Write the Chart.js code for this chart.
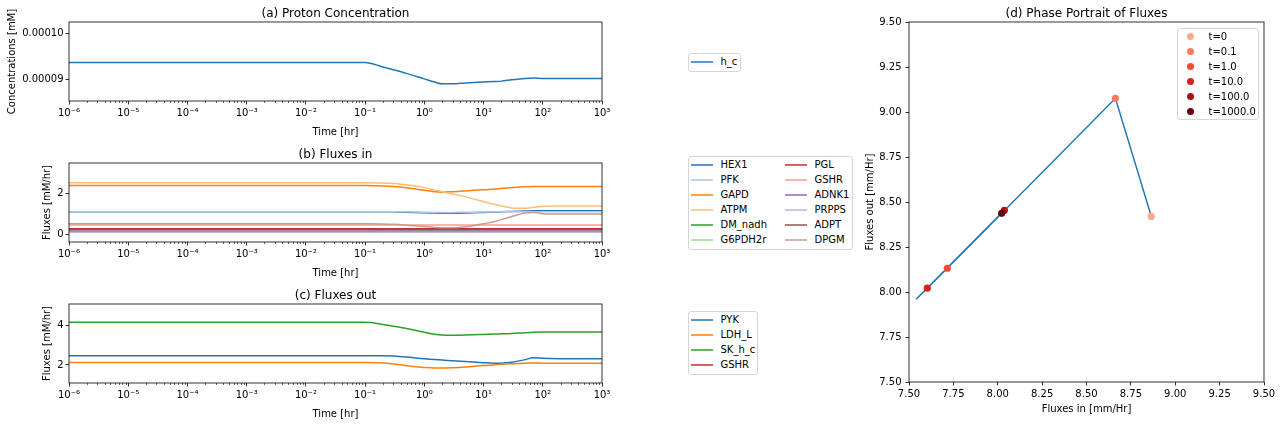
<!DOCTYPE html>
<html>
<head>
<meta charset="utf-8">
<script src="https://cdn.jsdelivr.net/npm/chart.js@4"></script>
<style>
  body { margin: 0; background: #fff; width: 1282px; height: 424px; position: relative; overflow: hidden; font-family: "DejaVu Sans", sans-serif; }
  canvas { position: absolute; }
  .legend { position: absolute; box-sizing: border-box; border: 1px solid #d6d6d6; border-radius: 3px; background: #fff; font-size: 10px; color: #000; }
  .row { position: absolute; height: 15px; display: flex; align-items: center; white-space: nowrap; }
  .swatch { width: 22px; height: 2px; margin-right: 8px; opacity: 0.75; }
  .dot { width: 7px; height: 7px; border-radius: 50%; margin-right: 15px; }
</style>
</head>
<body>
<canvas id="chartA" width="640" height="141" style="left:0px;top:0px"></canvas>
<canvas id="chartB" width="640" height="141" style="left:0px;top:141px"></canvas>
<canvas id="chartC" width="640" height="141" style="left:0px;top:282px"></canvas>
<canvas id="chartD" width="422" height="424" style="left:860px;top:0px"></canvas>
<script>
// time points [hr]
const times = [1e-6, 1e-3, 0.1, 0.2, 0.3, 0.5, 1, 1.5, 2, 3, 5, 10, 15, 20, 30, 50, 70, 100, 200, 1000];
const timeTicks = [1e-6, 1e-5, 1e-4, 1e-3, 1e-2, 1e-1, 1, 10, 100, 1000];

// (a) proton concentration [mM]
const hC = [9.37e-5, 9.37e-5, 9.37e-5, 9.27e-5, 9.21e-5, 9.13e-5, 9.01e-5, 8.94e-5, 8.90e-5, 8.90e-5,
            8.92e-5, 8.94e-5, 8.95e-5, 8.96e-5, 8.99e-5, 9.02e-5, 9.03e-5, 9.02e-5, 9.02e-5, 9.02e-5];

// (b) fluxes in [mM/hr]
const hex1    = [1.11, 1.11, 1.11, 1.11, 1.10, 1.08, 1.05, 1.04, 1.03, 1.03, 1.04, 1.07, 1.09, 1.10, 1.12, 1.14, 1.15, 1.15, 1.15, 1.15];
const pfk     = [1.11, 1.11, 1.11, 1.11, 1.11, 1.10, 1.08, 1.07, 1.07, 1.07, 1.08, 1.09, 1.10, 1.10, 1.11, 1.11, 1.11, 1.11, 1.11, 1.11];
const gapd    = [2.38, 2.38, 2.38, 2.36, 2.33, 2.27, 2.15, 2.08, 2.06, 2.08, 2.12, 2.18, 2.21, 2.24, 2.28, 2.32, 2.33, 2.33, 2.33, 2.33];
const atpm    = [2.52, 2.52, 2.52, 2.51, 2.48, 2.42, 2.28, 2.17, 2.08, 1.97, 1.83, 1.60, 1.47, 1.39, 1.29, 1.27, 1.32, 1.37, 1.38, 1.38];
const dmNadh  = [0.24, 0.24, 0.24, 0.24, 0.23, 0.23, 0.22, 0.22, 0.22, 0.22, 0.22, 0.23, 0.23, 0.24, 0.24, 0.24, 0.24, 0.24, 0.24, 0.24];
const g6pdh2r = [0.21, 0.21, 0.21, 0.21, 0.21, 0.21, 0.21, 0.21, 0.21, 0.21, 0.21, 0.21, 0.21, 0.21, 0.21, 0.21, 0.21, 0.21, 0.21, 0.21];
const pgl     = [0.27, 0.27, 0.27, 0.27, 0.27, 0.27, 0.27, 0.27, 0.27, 0.27, 0.27, 0.27, 0.27, 0.27, 0.27, 0.27, 0.27, 0.27, 0.27, 0.27];
const gshr    = [0.46, 0.46, 0.46, 0.46, 0.46, 0.46, 0.46, 0.46, 0.46, 0.46, 0.46, 0.46, 0.46, 0.46, 0.46, 0.46, 0.46, 0.46, 0.46, 0.46];
const adnk1   = [0.15, 0.15, 0.15, 0.15, 0.15, 0.15, 0.15, 0.15, 0.15, 0.15, 0.15, 0.15, 0.15, 0.15, 0.15, 0.15, 0.15, 0.15, 0.15, 0.15];
const prpps   = [0.11, 0.11, 0.11, 0.11, 0.11, 0.11, 0.11, 0.11, 0.11, 0.11, 0.11, 0.11, 0.11, 0.11, 0.11, 0.11, 0.11, 0.11, 0.11, 0.11];
const adpt    = [0.24, 0.24, 0.24, 0.24, 0.24, 0.24, 0.24, 0.24, 0.24, 0.24, 0.24, 0.24, 0.24, 0.24, 0.24, 0.24, 0.24, 0.24, 0.24, 0.24];
const dpgm    = [0.52, 0.52, 0.52, 0.51, 0.49, 0.45, 0.38, 0.34, 0.32, 0.32, 0.37, 0.52, 0.62, 0.72, 0.87, 1.04, 1.07, 1.01, 0.99, 0.99];
const fluxInNames = ["HEX1", "PFK", "GAPD", "ATPM", "DM_nadh", "G6PDH2r", "PGL", "GSHR", "ADNK1", "PRPPS", "ADPT", "DPGM"];
const fluxInValues = [hex1, pfk, gapd, atpm, dmNadh, g6pdh2r, pgl, gshr, adnk1, prpps, adpt, dpgm];

// (c) fluxes out [mM/hr]
const pyk    = [2.47, 2.47, 2.47, 2.47, 2.45, 2.40, 2.31, 2.27, 2.25, 2.21, 2.17, 2.11, 2.09, 2.09, 2.13, 2.27, 2.36, 2.34, 2.32, 2.32];
const ldhL   = [2.12, 2.12, 2.12, 2.10, 2.05, 1.96, 1.87, 1.84, 1.84, 1.86, 1.90, 1.97, 2.00, 2.03, 2.06, 2.09, 2.10, 2.09, 2.08, 2.08];
const skHC   = [4.17, 4.17, 4.17, 4.06, 3.97, 3.85, 3.66, 3.56, 3.52, 3.51, 3.52, 3.55, 3.57, 3.58, 3.60, 3.64, 3.66, 3.67, 3.67, 3.67];
const gshrOut = [0.46, 0.46, 0.46, 0.46, 0.46, 0.46, 0.46, 0.46, 0.46, 0.46, 0.46, 0.46, 0.46, 0.46, 0.46, 0.46, 0.46, 0.46, 0.46, 0.46];
const fluxOutNames = ["PYK", "LDH_L", "SK_h_c", "GSHR"];
const fluxOutValues = [pyk, ldhL, skHC, gshrOut];

// (d) phase portrait [mm/Hr]
const trajIn  = [8.865, 8.663, 7.716, 7.603, 7.54, 8.037, 8.022];
const trajOut = [8.42, 9.076, 8.132, 8.021, 7.96, 8.454, 8.437];
const phaseLabels = ["t=0", "t=0.1", "t=1.0", "t=10.0", "t=100.0", "t=1000.0"];
const phaseIn  = [8.865, 8.663, 7.716, 7.603, 8.037, 8.022];
const phaseOut = [8.42, 9.076, 8.132, 8.021, 8.454, 8.437];
const phaseTicks = [7.5, 7.75, 8.0, 8.25, 8.5, 8.75, 9.0, 9.25, 9.5];

const tab10 = ["#1f77b4", "#ff7f0e", "#2ca02c", "#d62728"];
const tab20 = ["#1f77b4", "#aec7e8", "#ff7f0e", "#ffbb78", "#2ca02c", "#98df8a",
               "#d62728", "#ff9896", "#9467bd", "#c5b0d5", "#8c564b", "#c49c94"];
const reds = ["#fcaa8e", "#fb7c5c", "#f24a35", "#d52221", "#a81016", "#67000d"];

Chart.defaults.font.family = "DejaVu Sans";
Chart.defaults.font.size = 10;
Chart.defaults.color = "#000";

const sup = { "0": "⁰", "1": "¹", "2": "²", "3": "³", "4": "⁴", "5": "⁵", "6": "⁶", "7": "⁷", "8": "⁸", "9": "⁹", "-": "⁻" };
function powLabel(v) {
  const e = String(Math.round(Math.log10(v)));
  return "10" + e.split("").map(c => sup[c]).join("");
}

// box around the axes + minor ticks on log axis
const framePlugin = {
  id: "frame",
  afterDraw(chart) {
    const { ctx, chartArea: a } = chart;
    ctx.save();
    ctx.strokeStyle = "#000";
    ctx.lineWidth = 0.8;
    ctx.strokeRect(a.left, a.top, a.right - a.left, a.bottom - a.top);
    const xs = chart.scales.x;
    if (xs.type === "logarithmic") {
      ctx.lineWidth = 0.6;
      ctx.beginPath();
      for (let e = -6; e < 3; e++) {
        for (let k = 2; k <= 9; k++) {
          const px = Math.round(xs.getPixelForValue(k * Math.pow(10, e))) + 0.5;
          ctx.moveTo(px, a.bottom);
          ctx.lineTo(px, a.bottom + 2);
        }
      }
      ctx.stroke();
    }
    ctx.restore();
  }
};

function series(vals) {
  return times.map((t, i) => ({ x: t, y: vals[i] }));
}

function timeChart(id, title, yTitle, yPad, yMin, yMax, yTicks, yFmt, datasets) {
  return new Chart(document.getElementById(id), {
    type: "line",
    data: { datasets: datasets },
    options: {
      responsive: false,
      animation: false,
      layout: { padding: { left: 0, right: 38, top: 0, bottom: 0 } },
      elements: { point: { radius: 0 }, line: { borderWidth: 1.5, tension: 0, cubicInterpolationMode: "monotone" } },
      plugins: {
        legend: { display: false },
        tooltip: { enabled: false },
        title: { display: true, text: title, fullSize: false, color: "#000",
                 font: { size: 12, weight: "normal" }, padding: { top: 6.5, bottom: 1.1 } }
      },
      scales: {
        x: {
          type: "logarithmic", min: 1e-6, max: 1e3,
          afterBuildTicks: s => { s.ticks = timeTicks.map(v => ({ value: v })); },
          afterFit: s => { s.height = 40; },
          grid: { drawOnChartArea: false, tickLength: 3.5, tickColor: "#000", tickWidth: 0.8 },
          border: { display: false },
          ticks: { autoSkip: false, maxRotation: 0, padding: 3, callback: v => powLabel(v) },
          title: { display: true, text: "Time [hr]", padding: { top: 0, bottom: 3 } }
        },
        y: {
          min: yMin, max: yMax,
          afterBuildTicks: s => { s.ticks = yTicks.map(v => ({ value: v })); },
          afterFit: s => { s.width = 69; },
          grid: { drawOnChartArea: false, tickLength: 3.5, tickColor: "#000", tickWidth: 0.8 },
          border: { display: false },
          ticks: { padding: 2, callback: v => yFmt(v) },
          title: { display: true, text: yTitle, padding: { top: yPad, bottom: 0 } }
        }
      }
    },
    plugins: [framePlugin]
  });
}

timeChart("chartA", "(a) Proton Concentration", "Concentrations [mM]", 6,
  8.524e-5, 1.0257e-4, [9e-5, 1e-4], v => v.toFixed(5),
  [{ data: series(hC), borderColor: tab10[0] }]);

timeChart("chartB", "(b) Fluxes in", "Fluxes [mM/hr]", 41,
  -0.37, 3.48, [0, 2], v => String(v),
  fluxInValues.map((vals, i) => ({ data: series(vals), borderColor: tab20[i] })).reverse());

timeChart("chartC", "(c) Fluxes out", "Fluxes [mM/hr]", 41,
  1.08, 5.10, [2, 4], v => String(v),
  fluxOutValues.map((vals, i) => ({ data: series(vals), borderColor: tab10[i] })).reverse());

// (d) phase portrait
const phaseSets = phaseLabels.map((lab, i) => ({
  label: lab,
  data: [{ x: phaseIn[i], y: phaseOut[i] }],
  backgroundColor: reds[i], borderColor: reds[i],
  pointRadius: 3.6, pointBorderWidth: 0, order: 5 - i
}));
phaseSets.push({
  label: "trajectory",
  data: trajIn.map((v, i) => ({ x: v, y: trajOut[i] })),
  showLine: true, borderColor: tab10[0], borderWidth: 1.5, pointRadius: 0, order: 10
});

new Chart(document.getElementById("chartD"), {
  type: "scatter",
  data: { datasets: phaseSets },
  options: {
    responsive: false,
    animation: false,
    layout: { padding: { left: 0, right: 18, top: 0, bottom: 0 } },
    plugins: {
      legend: { display: false },
      tooltip: { enabled: false },
      title: { display: true, text: "(d) Phase Portrait of Fluxes", fullSize: false, color: "#000",
               font: { size: 12, weight: "normal" }, padding: { top: 6.5, bottom: 1.1 } }
    },
    scales: {
      x: {
        type: "linear", min: 7.5, max: 9.5,
        afterBuildTicks: s => { s.ticks = phaseTicks.map(v => ({ value: v })); },
        afterFit: s => { s.height = 42; },
        grid: { drawOnChartArea: false, tickLength: 3.5, tickColor: "#000", tickWidth: 0.8 },
        border: { display: false },
        ticks: { autoSkip: false, maxRotation: 0, padding: 2.8, callback: v => v.toFixed(2) },
        title: { display: true, text: "Fluxes in [mm/Hr]", padding: { top: 0, bottom: 8.7 } }
      },
      y: {
        type: "linear", min: 7.5, max: 9.5,
        afterBuildTicks: s => { s.ticks = phaseTicks.map(v => ({ value: v })); },
        afterFit: s => { s.width = 49; },
        grid: { drawOnChartArea: false, tickLength: 3.5, tickColor: "#000", tickWidth: 0.8 },
        border: { display: false },
        ticks: { padding: 4, callback: v => v.toFixed(2) },
        title: { display: true, text: "Fluxes out [mm/Hr]", padding: { top: 4, bottom: 0 } }
      }
    }
  },
  plugins: [framePlugin]
});

// legends
function legend(left, top, width, height, names, colors, colStep, rowsPerCol, dots) {
  const box = document.createElement("div");
  box.className = "legend";
  box.style.left = left + "px";
  box.style.top = top + "px";
  box.style.width = width + "px";
  box.style.height = height + "px";
  names.forEach((name, i) => {
    const row = document.createElement("div");
    row.className = "row";
    const col = Math.floor(i / rowsPerCol);
    row.style.top = ((i % rowsPerCol) * 15) + "px";
    row.style.left = (dots ? 8.5 : 1.5) + col * colStep + "px";
    const mark = document.createElement("div");
    mark.className = dots ? "dot" : "swatch";
    mark.style.background = colors[i];
    row.appendChild(mark);
    row.appendChild(document.createTextNode(name));
    box.appendChild(row);
  });
  document.body.appendChild(box);
}
legend(688, 53, 53, 19, ["h_c"], tab10, 0, 1, false);
legend(688, 156, 165, 94, fluxInNames, tab20, 94, 6, false);
legend(688, 311, 70, 64, fluxOutNames, tab10, 0, 4, false);
legend(1177, 28, 82, 92, phaseLabels, reds, 0, 6, true);
</script>
</body>
</html>
